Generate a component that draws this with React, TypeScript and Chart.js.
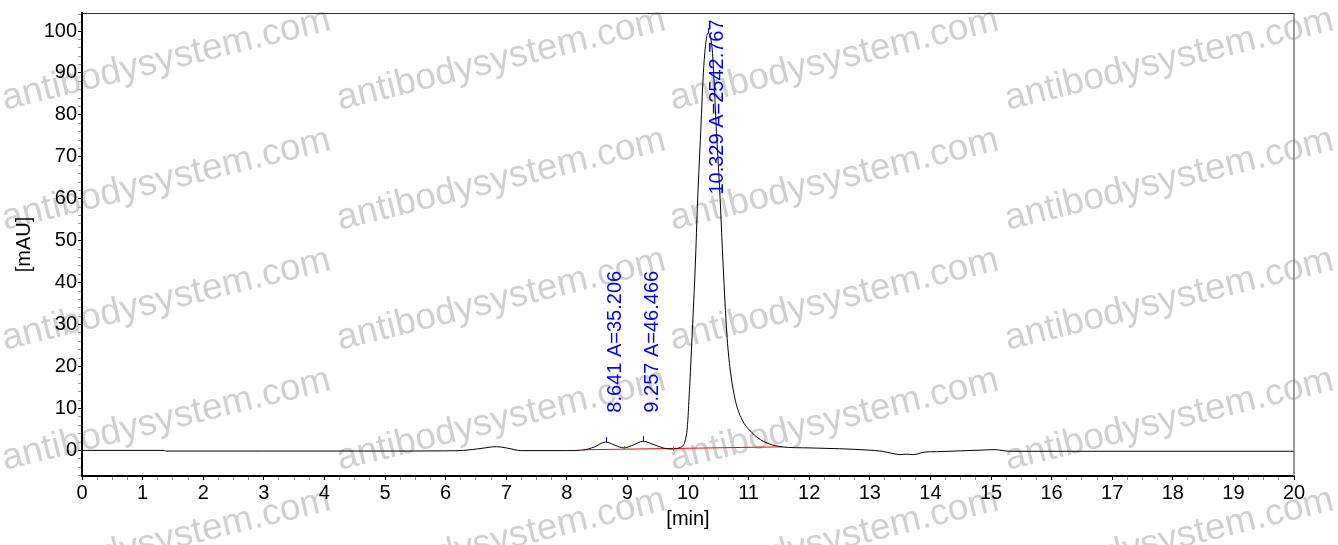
import React, { useEffect, useRef } from "react";
import { Chart, registerables } from "chart.js";

Chart.register(...registerables);

// Chromatogram trace (time in min, signal in mAU)
const times = [0, 1.36, 1.38, 3.0, 5.0, 6.0, 6.3, 6.6, 6.84, 7.0, 7.25, 8.0, 8.27, 8.45, 8.641, 8.8, 8.94, 9.1, 9.257, 9.45, 9.65, 9.75, 9.87, 9.98, 10.03, 10.07, 10.12, 10.16, 10.21, 10.26, 10.329, 10.40, 10.47, 10.53, 10.58, 10.64, 10.69, 10.78, 10.89, 11.05, 11.24, 11.55, 12.0, 12.5, 12.95, 13.2, 13.4, 13.5, 13.6, 13.72, 13.9, 14.1, 14.5, 14.9, 15.05, 15.2, 15.3, 20];
const mau = [0, 0, -0.15, -0.15, -0.15, -0.1, 0.0, 0.5, 0.9, 0.6, -0.05, -0.05, 0.1, 0.8, 2.0, 1.2, 0.6, 1.3, 2.2, 1.3, 0.4, 0.35, 0.7, 4.3, 16, 28, 44, 60, 76, 91.5, 99.5, 95.5, 76, 60, 44, 28, 20, 12, 7.4, 4.3, 2.2, 0.85, 0.6, 0.4, 0.1, -0.2, -0.8, -1.0, -0.9, -1.0, -0.4, -0.3, -0.1, 0.1, 0.2, -0.05, -0.2, -0.2];

// Integration baseline (red)
const baseTimes = [8.27, 11.55];
const baseValues = [0.15, 0.85];

// Peak annotations
const peakTimes = [8.641, 9.257, 10.329];
const peakHeights = [2.0, 2.2, 99.5];
const peakAreas = ["35.206", "46.466", "2542.767"];
const labelStarts = [9, 9, 61];
const valleyTimes = [8.94, 9.75];
const valleyValues = [0.6, 0.35];

// Axes
const xMin = 0;
const xMax = 20;
const yMin = -6.1;
const yMax = 104.3;
const xTitle = "[min]";
const yTitle = "[mAU]";
const watermarkText = "antibodysystem.com";

const FONT = '"Liberation Sans", Arial, sans-serif';

const watermarkPlugin = {
  id: "watermark",
  beforeDraw(chart: any) {
    const ctx = chart.ctx;
    ctx.save();
    ctx.font = `37px ${FONT}`;
    ctx.fillStyle = "rgba(150,150,150,0.45)";
    ctx.textBaseline = "alphabetic";
    ctx.textAlign = "left";
    const cols = [5, 340, 673, 1008];
    const rows = [-10, 110, 230, 350, 470, 590];
    for (const cx of cols) {
      for (const ry of rows) {
        ctx.save();
        ctx.translate(cx, ry);
        ctx.rotate((-13.8 * Math.PI) / 180);
        ctx.fillText(watermarkText, 0, 0);
        ctx.restore();
      }
    }
    ctx.restore();
  },
};

const annotationPlugin = {
  id: "peakAnnotations",
  afterDatasetsDraw(chart: any) {
    const ctx = chart.ctx;
    const xs = chart.scales.x;
    const ys = chart.scales.y;
    const area = chart.chartArea;
    ctx.save();
    // frame top & right
    ctx.strokeStyle = "#333";
    ctx.lineWidth = 1;
    ctx.beginPath();
    ctx.moveTo(area.left, area.top + 0.5);
    ctx.lineTo(area.right, area.top + 0.5);
    ctx.stroke();
    ctx.strokeStyle = "#7a7a7a";
    ctx.lineWidth = 1.5;
    ctx.beginPath();
    ctx.moveTo(area.right, area.top);
    ctx.lineTo(area.right, area.bottom);
    ctx.stroke();

    // peak apex ticks
    ctx.strokeStyle = "#0000ff";
    ctx.lineWidth = 1;
    peakTimes.forEach((t, i) => {
      const px = Math.round(xs.getPixelForValue(t)) + 0.5;
      const py = ys.getPixelForValue(peakHeights[i]);
      ctx.beginPath();
      ctx.moveTo(px, py);
      ctx.lineTo(px, py - 5);
      ctx.stroke();
    });
    // valley marks
    ctx.strokeStyle = "#2a9a2a";
    valleyTimes.forEach((t, i) => {
      const px = Math.round(xs.getPixelForValue(t)) + 0.5;
      const py = ys.getPixelForValue(valleyValues[i]);
      ctx.beginPath();
      ctx.moveTo(px, py - 2);
      ctx.lineTo(px, py + 2);
      ctx.stroke();
    });

    // labels
    ctx.fillStyle = "#0000ff";
    ctx.font = `20px ${FONT}`;
    ctx.textAlign = "left";
    ctx.textBaseline = "alphabetic";
    peakTimes.forEach((t, i) => {
      const px = xs.getPixelForValue(t);
      const py = ys.getPixelForValue(labelStarts[i]);
      ctx.save();
      ctx.translate(px + 15.5, py);
      ctx.rotate(-Math.PI / 2);
      ctx.fillText(`${t.toFixed(3)} A=${peakAreas[i]}`, 0, 0);
      ctx.restore();
    });
    ctx.restore();
  },
};

export default function App() {
  const canvasRef = useRef<HTMLCanvasElement | null>(null);

  useEffect(() => {
    document.body.style.margin = "0";
    const canvas = canvasRef.current;
    if (!canvas) return;
    const chart = new Chart(canvas, {
      type: "line",
      data: {
        datasets: [
          {
            data: times.map((t, i) => ({ x: t, y: mau[i] })),
            borderColor: "#000000",
            borderWidth: 1,
            pointRadius: 0,
            cubicInterpolationMode: "monotone",
            fill: false,
          },
          {
            data: baseTimes.map((t, i) => ({ x: t, y: baseValues[i] })),
            borderColor: "#ff0000",
            borderWidth: 1,
            pointRadius: 0,
            fill: false,
          },
        ],
      },
      options: {
        animation: false,
        responsive: false,
        events: [],
        layout: { padding: { top: 13, right: 44, left: 0, bottom: 0 } },
        plugins: {
          legend: { display: false },
          tooltip: { enabled: false },
        },
        scales: {
          x: {
            type: "linear",
            min: xMin,
            max: xMax,
            afterFit: (s: any) => {
              s.height = 69;
            },
            border: { display: true, color: "#000", width: 2 },
            grid: {
              drawOnChartArea: false,
              drawTicks: true,
              tickLength: 4,
              tickColor: (c: any) =>
                c.tick && Number.isInteger(c.tick.value) ? "#000" : "#999",
            },
            ticks: {
              stepSize: 0.25,
              autoSkip: false,
              maxRotation: 0,
              padding: 1,
              color: "#000",
              font: { family: FONT, size: 20 },
              callback: (v: any) => (Number.isInteger(v) ? String(v) : ""),
            },
            title: {
              display: true,
              text: xTitle,
              color: "#000",
              font: { family: FONT, size: 20 },
              padding: { top: 0, bottom: 14 },
            },
          },
          y: {
            type: "linear",
            min: yMin,
            max: yMax,
            afterFit: (s: any) => {
              s.width = 82;
            },
            border: { display: true, color: "#000", width: 2 },
            grid: {
              drawOnChartArea: false,
              drawTicks: true,
              tickLength: 4,
              tickColor: (c: any) =>
                c.tick && c.tick.value % 10 === 0 ? "#000" : "#999",
            },
            ticks: {
              stepSize: 2,
              includeBounds: false,
              autoSkip: false,
              padding: 1,
              color: "#000",
              font: { family: FONT, size: 20 },
              callback: (v: any) => (v % 10 === 0 ? String(v) : ""),
            },
            title: {
              display: true,
              text: yTitle,
              color: "#000",
              font: { family: FONT, size: 20 },
              padding: { top: 12, bottom: 0 },
            },
          },
        },
      },
      plugins: [watermarkPlugin, annotationPlugin],
    } as any);
    return () => chart.destroy();
  }, []);

  return (
    <div style={{ width: 1338, height: 545 }}>
      <canvas ref={canvasRef} width={1338} height={545} style={{ display: "block" }} />
    </div>
  );
}
